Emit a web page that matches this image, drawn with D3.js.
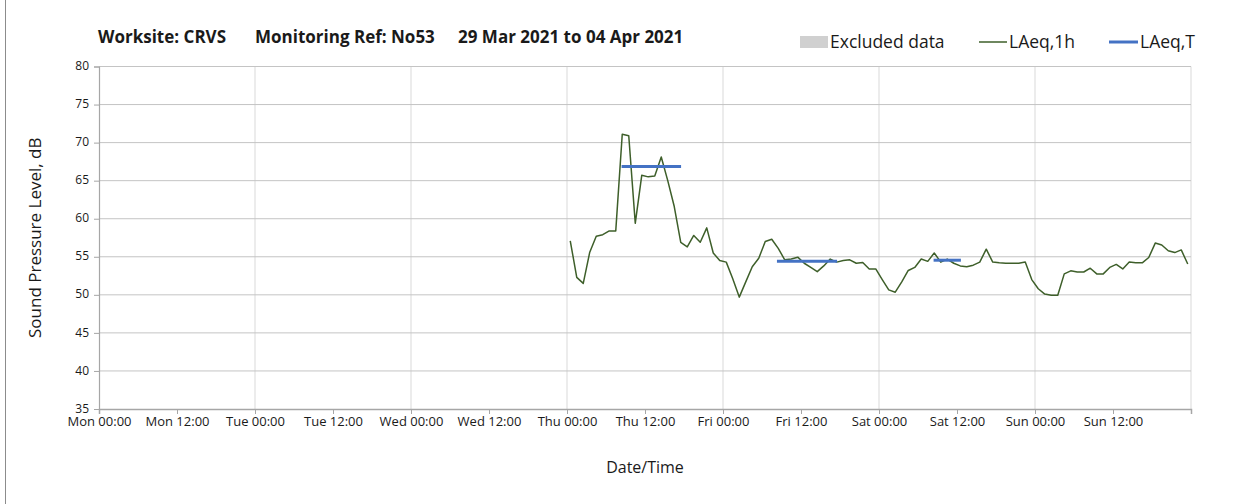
<!DOCTYPE html>
<html>
<head>
<meta charset="utf-8">
<script src="https://cdn.jsdelivr.net/npm/d3@7"></script>
<style>
  body { margin: 0; background: #fff; }
  text { font-family: "Open Sans", Lato, sans-serif; fill: #1a1a1a; }
</style>
</head>
<body>
<svg id="chart"></svg>
<script>
const svgWidth = 1251,
    svgHeight = 504;
const margin = {top: 66.5, right: 60, bottom: 95, left: 99},
    width = svgWidth - margin.left - margin.right,
    height = svgHeight - margin.top - margin.bottom;

// monitoring week (UTC so no DST surprises)
const weekStart = "2021-03-29T00:00";
const weekEnd = "2021-04-05T00:00";

// hourly LAeq,1h readings, first one at Thu 00:30
const firstReading = "2021-04-01T00:30";
const laeq1h = [
    57.1, 52.3, 51.5, 55.6, 57.7, 57.9, 58.4, 58.4, 71.1, 70.9, 59.4, 65.7,
    65.5, 65.6, 68.1, 65.0, 61.6, 56.9, 56.3, 57.8, 56.9, 58.8, 55.5, 54.5,
    54.3, 52.1, 49.7, 51.7, 53.7, 54.8, 57.0, 57.3, 56.1, 54.6, 54.7, 54.95,
    54.15, 53.6, 53.05, 53.8, 54.7, 54.3, 54.5, 54.6, 54.15, 54.25, 53.4, 53.4,
    52.0, 50.65, 50.35, 51.7, 53.2, 53.6, 54.7, 54.4, 55.5, 54.3, 54.7, 54.15,
    53.8, 53.7, 53.9, 54.3, 56.0, 54.3, 54.2, 54.15, 54.15, 54.15, 54.3, 52.0,
    50.8, 50.1, 49.95, 49.95, 52.75, 53.15, 53.0, 53.0, 53.5, 52.75, 52.75, 53.6,
    54.0, 53.4, 54.3, 54.2, 54.2, 54.9, 56.8, 56.55, 55.8, 55.55, 55.9, 54.05
];

// LAeq,T daytime periods
const periodStarts = ["2021-04-01T08:24", "2021-04-02T08:18", "2021-04-03T08:24"];
const periodEnds = ["2021-04-01T17:33", "2021-04-02T17:33", "2021-04-03T12:36"];
const periodValues = [66.85, 54.4, 54.55];

const yTicks = [35, 40, 45, 50, 55, 60, 65, 70, 75, 80];

const titleParts = ["Worksite: CRVS", "Monitoring Ref: No53", "29 Mar 2021 to 04 Apr 2021"];
const legendLabels = ["Excluded data", "LAeq,1h", "LAeq,T"];

const lineColor = "#3e5f2a";
const periodColor = "#4472c4";

var parseTime = d3.utcParse("%Y-%m-%dT%H:%M");
var formatTick = d3.utcFormat("%a %H:%M");

const chart = d3.select("#chart")
    .attr("width", svgWidth)
    .attr("height", svgHeight);

// outer chart frame edge
chart.append("line")
    .attr("x1", 5.5).attr("x2", 5.5)
    .attr("y1", 0).attr("y2", svgHeight)
    .attr("stroke", "#8c8c8c");

const innerChart = chart.append("g")
    .attr("transform", "translate(" + margin.left + "," + margin.top + ")");

var xScale = d3.scaleUtc()
    .domain([parseTime(weekStart), parseTime(weekEnd)])
    .range([0, width]);
var yScale = d3.scaleLinear().domain([35, 80]).range([height, 0]);

var halfDays = d3.utcHour.every(12).range(xScale.domain()[0], d3.utcHour.offset(xScale.domain()[1], 1));
var days = d3.utcDay.range(xScale.domain()[0], d3.utcHour.offset(xScale.domain()[1], 1));

// gridlines
innerChart.append("g")
    .selectAll("line")
    .data(days.slice(1))
    .enter().append("line")
    .attr("x1", d => xScale(d)).attr("x2", d => xScale(d))
    .attr("y1", 0).attr("y2", height)
    .attr("stroke", "#d9d9d9");

innerChart.append("g")
    .selectAll("line")
    .data(yTicks.slice(1))
    .enter().append("line")
    .attr("x1", 0).attr("x2", width)
    .attr("y1", d => yScale(d)).attr("y2", d => yScale(d))
    .attr("stroke", "#c4c4c4");

// axes
var xAxis = d3.axisBottom(xScale)
    .tickValues(halfDays)
    .tickSize(5)
    .tickFormat((d, i) => i < halfDays.length - 1 ? formatTick(d) : "");

var yAxis = d3.axisLeft(yScale)
    .tickValues(yTicks)
    .tickSize(5)
    .tickFormat(d3.format("d"));

var gx = innerChart.append("g")
    .attr("transform", "translate(0," + height + ")")
    .call(xAxis);
gx.select(".domain").attr("stroke", "#a6a6a6").attr("stroke-width", 1.5);
gx.selectAll(".tick line").attr("stroke", "#a6a6a6");
gx.selectAll(".tick text")
    .attr("y", 8)
    .style("font-size", "13px")
    .attr("fill", "#1a1a1a");

var gy = innerChart.append("g").call(yAxis);
gy.select(".domain").attr("stroke", "#a6a6a6").attr("stroke-width", 1.2);
gy.selectAll(".tick line").attr("stroke", "#a6a6a6");
gy.selectAll(".tick text")
    .attr("x", -10)
    .attr("dy", "0.26em")
    .style("font-size", "12px")
    .attr("fill", "#1a1a1a");

// LAeq,1h line
var readings = laeq1h.map((v, i) => ({
    date: d3.utcHour.offset(parseTime(firstReading), i),
    value: v
}));

var valueline = d3.line()
    .x(d => xScale(d.date))
    .y(d => yScale(d.value));

innerChart.append("path")
    .datum(readings)
    .attr("fill", "none")
    .attr("stroke", lineColor)
    .attr("stroke-width", 1.5)
    .attr("stroke-linejoin", "round")
    .attr("d", valueline);

// LAeq,T bars
innerChart.append("g")
    .selectAll("line")
    .data(periodValues)
    .enter().append("line")
    .attr("x1", (d, i) => xScale(parseTime(periodStarts[i])))
    .attr("x2", (d, i) => xScale(parseTime(periodEnds[i])))
    .attr("y1", d => yScale(d))
    .attr("y2", d => yScale(d))
    .attr("stroke", periodColor)
    .attr("stroke-width", 3);

// title, three blocks
var titleX = [98, 255, 458];
chart.append("g")
    .selectAll("text")
    .data(titleParts)
    .enter().append("text")
    .attr("x", (d, i) => titleX[i])
    .attr("y", 43)
    .style("font-size", "17px")
    .style("font-weight", "bold")
    .attr("fill", "#111")
    .text(d => d);

// legend
var legend = chart.append("g").style("font-size", "17.5px");
legend.append("rect")
    .attr("x", 800).attr("y", 36)
    .attr("width", 28).attr("height", 12)
    .attr("fill", "#d0d0d0");
legend.append("text").attr("x", 830).attr("y", 48).text(legendLabels[0]);

legend.append("line")
    .attr("x1", 979).attr("x2", 1007)
    .attr("y1", 42).attr("y2", 42)
    .attr("stroke", lineColor).attr("stroke-width", 1.5);
legend.append("text").attr("x", 1009).attr("y", 48).text(legendLabels[1]);

legend.append("line")
    .attr("x1", 1109).attr("x2", 1138)
    .attr("y1", 42).attr("y2", 42)
    .attr("stroke", periodColor).attr("stroke-width", 3);
legend.append("text").attr("x", 1140).attr("y", 48).text(legendLabels[2]);

// axis titles
chart.append("text")
    .attr("transform", "translate(41," + (margin.top + height / 2) + ") rotate(-90)")
    .attr("text-anchor", "middle")
    .style("font-size", "17px")
    .text("Sound Pressure Level, dB");

chart.append("text")
    .attr("x", 645)
    .attr("y", 473)
    .attr("text-anchor", "middle")
    .style("font-size", "16px")
    .text("Date/Time");
</script>
</body>
</html>
